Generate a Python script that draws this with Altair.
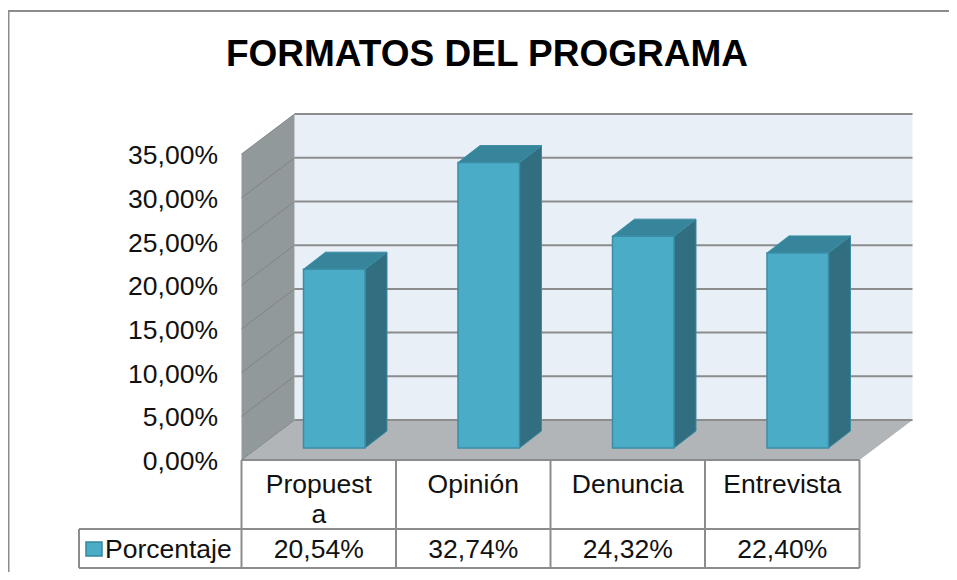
import altair as alt
import pandas as pd

TITLE = "FORMATOS DEL PROGRAMA"
CATEGORIES = ["Propuest\na", "Opinión", "Denuncia", "Entrevista"]
VALUES = [20.54, 32.74, 24.32, 22.40]
VALUE_LABELS = ["20,54%", "32,74%", "24,32%", "22,40%"]
TICKS = [0, 5, 10, 15, 20, 25, 30, 35]
TICK_LABELS = ["0,00%", "5,00%", "10,00%", "15,00%", "20,00%", "25,00%", "30,00%", "35,00%"]
SERIES = "Porcentaje"

W, H = 941, 564
PX_X = 154.5          # px per category
PX_Y = 8.74           # px per percentage point
X0, Y0 = 233.5, 452   # where category 0 / value 0 sit
WALL_DX, WALL_DY = 53 / PX_X, 40 / PX_Y
BAR_DX, BAR_DY = 22 / PX_X, 17 / PX_Y
BAR_W, BAR_OFF = 61.5 / PX_X, 15.5 / PX_X
BAR_BASE = 12 / PX_Y
N = len(CATEGORIES)

xs = alt.Scale(domain=[-X0 / PX_X, (W - X0) / PX_X], range=[0, W], nice=False, zero=False)
ys = alt.Scale(domain=[(Y0 - H) / PX_Y, Y0 / PX_Y], range=[H, 0], nice=False, zero=False)
X = alt.X("x:Q", scale=xs, axis=None)
Y = alt.Y("y:Q", scale=ys, axis=None)
X2 = alt.X2("x2:Q")
Y2 = alt.Y2("y2:Q")

FRONT, TOP, SIDE, EDGE = "#4bacc8", "#37859a", "#316e80", "#3b8da5"
LINE = "#8c8c8c"
FONT = "Liberation Sans"
FS = 26.5


def rules(rows, color=LINE, width=1.5):
    return alt.Chart(pd.DataFrame(rows)).mark_rule(color=color, strokeWidth=width).encode(
        x=X, x2=X2, y=Y, y2=Y2)


# walls and floor
back = alt.Chart(pd.DataFrame([dict(x=WALL_DX, x2=N + WALL_DX, y=WALL_DY, y2=35 + WALL_DY)])).mark_rect(
    color="#e8eff7").encode(x=X, x2=X2, y=Y, y2=Y2)
left = alt.Chart(pd.DataFrame([
    dict(x=0, y=0, y2=35), dict(x=WALL_DX, y=WALL_DY, y2=35 + WALL_DY)
])).mark_area(color="#92999b", orient="vertical").encode(x=X, y=Y, y2=Y2)
floor = alt.Chart(pd.DataFrame([
    dict(y=0, x=0, x2=N), dict(y=WALL_DY, x=WALL_DX, x2=N + WALL_DX)
])).mark_area(color="#b1b5b8", orient="horizontal").encode(y=Y, x=X, x2=X2)

back_grid = rules([dict(x=WALL_DX, x2=N + WALL_DX, y=t + WALL_DY, y2=t + WALL_DY) for t in TICKS], width=2)
wall_grid = rules([dict(x=0, x2=WALL_DX, y=t, y2=t + WALL_DY) for t in TICKS], color="#7f8587", width=1)

# bars
fronts, sides, tops = [], [], []
for i, v in enumerate(VALUES):
    a = i + 0.5 + BAR_OFF - BAR_W / 2
    b = a + BAR_W
    t = BAR_BASE + v - 0.08
    fronts.append(dict(x=a, x2=b, y=BAR_BASE, y2=t))
    sides += [dict(b=i, x=b, y=BAR_BASE, y2=t), dict(b=i, x=b + BAR_DX, y=BAR_BASE + BAR_DY, y2=t + BAR_DY)]
    tops += [dict(b=i, y=t, x=a, x2=b), dict(b=i, y=t + BAR_DY, x=a + BAR_DX, x2=b + BAR_DX)]

bar_side = alt.Chart(pd.DataFrame(sides)).mark_area(
    color=SIDE, orient="vertical", stroke=EDGE, strokeWidth=1
).encode(x=X, y=Y, y2=Y2, detail="b:N")
bar_top = alt.Chart(pd.DataFrame(tops)).mark_area(
    color=TOP, orient="horizontal", stroke=EDGE, strokeWidth=1
).encode(y=Y, x=X, x2=X2, detail="b:N")
bar_front = alt.Chart(pd.DataFrame(fronts)).mark_rect(
    color=FRONT, stroke=EDGE, strokeWidth=1.5
).encode(x=X, x2=X2, y=Y, y2=Y2)

# data table
ROW1, ROW2 = -69 / PX_Y, -108 / PX_Y
LEFT = -162.5 / PX_X
table = rules(
    [dict(x=0, x2=N, y=0, y2=0), dict(x=LEFT, x2=N, y=ROW1, y2=ROW1), dict(x=LEFT, x2=N, y=ROW2, y2=ROW2),
     dict(x=LEFT, x2=LEFT, y=ROW1, y2=ROW2)]
    + [dict(x=i, x2=i, y=0, y2=ROW2) for i in range(N + 1)],
    width=2,
)
key = alt.Chart(pd.DataFrame([dict(x=-155.5 / PX_X, x2=-139.5 / PX_X, y=-96 / PX_Y, y2=-82 / PX_Y)])).mark_rect(
    color=FRONT, stroke=TOP, strokeWidth=1.5
).encode(x=X, x2=X2, y=Y, y2=Y2)


def text(rows, size=FS, **kw):
    return alt.Chart(pd.DataFrame(rows)).mark_text(
        font=FONT, fontSize=size, color="#111111", **kw
    ).encode(x=X, y=Y, text="t:N")


tick_text = text([dict(x=-23.5 / PX_X, y=t, t=l) for t, l in zip(TICKS, TICK_LABELS)],
                 align="right", baseline="alphabetic", dy=10)
cat_text = text([dict(x=i + 0.5, y=-33 / PX_Y, t=c) for i, c in enumerate(CATEGORIES)],
                align="center", baseline="alphabetic", lineBreak="\n", lineHeight=30)
val_text = text([dict(x=i + 0.5, y=-98 / PX_Y, t=l) for i, l in enumerate(VALUE_LABELS)],
                align="center", baseline="alphabetic")
ser_text = text([dict(x=-136.5 / PX_X, y=-98 / PX_Y, t=SERIES)], align="left", baseline="alphabetic")
title = alt.Chart(pd.DataFrame([dict(x=245.5 / PX_X, y=394 / PX_Y, t=TITLE)])).mark_text(
    font=FONT, fontSize=37, fontWeight="bold", color="#000000", align="center", baseline="alphabetic"
).encode(x=X, y=Y, text="t:N")

# outer frame
frame = rules([
    dict(x=-X0 / PX_X + 0.5 / PX_X, x2=-X0 / PX_X + 0.5 / PX_X, y=(Y0 - 3) / PX_Y, y2=(Y0 - H) / PX_Y),
    dict(x=-X0 / PX_X, x2=(W - X0) / PX_X, y=(Y0 - 3) / PX_Y, y2=(Y0 - 3) / PX_Y),
], width=2)

chart = alt.layer(
    frame, back, left, floor, back_grid, wall_grid, bar_side, bar_top, bar_front,
    table, key, tick_text, cat_text, val_text, ser_text, title,
).properties(
    width=W, height=H, padding=0, autosize=alt.AutoSizeParams(type="none"), background="white"
).configure_view(stroke=None)

chart.save("out.html", embed_options={"renderer": "svg", "actions": False})
